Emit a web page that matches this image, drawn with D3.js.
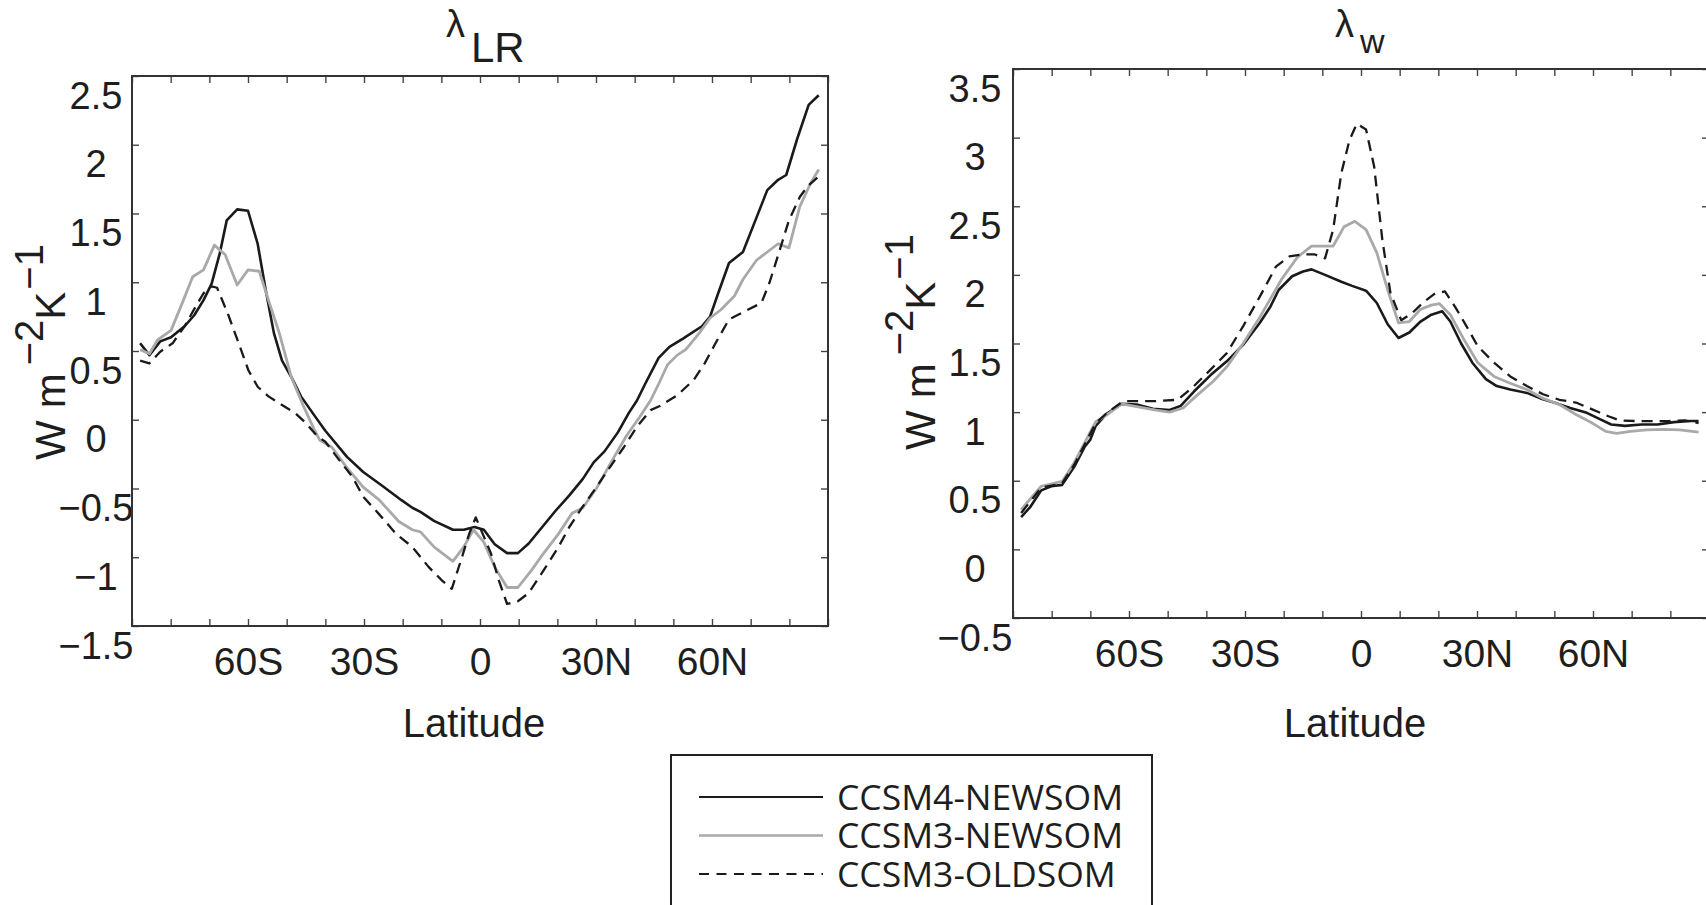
<!DOCTYPE html>
<html>
<head>
<meta charset="utf-8">
<script src="https://cdn.jsdelivr.net/npm/d3@7"></script>
<style>
  body { margin: 0; background: #fff; }
  svg { display: block; }
  text { font-family: "Liberation Sans", Arial, sans-serif; fill: #1e1e1e; }
</style>
</head>
<body>
<div id="container"></div>
<script>
// series names (legend order)
const seriesNames = ['CCSM4-NEWSOM', 'CCSM3-NEWSOM', 'CCSM3-OLDSOM'];

// lapse-rate feedback [latitude, W m-2 K-1]
const lrCCSM4 = [[-87.9,0.556],[-85.5,0.47],[-82.7,0.57],[-79.9,0.60],[-76.4,0.68],[-73.9,0.76],[-71.5,0.87],[-69.4,0.99],[-67.3,1.21],[-65.5,1.45],[-62.8,1.53],[-60,1.52],[-57.5,1.28],[-55.4,0.94],[-53.3,0.63],[-51.2,0.43],[-48.4,0.29],[-46.3,0.17],[-42.8,0.03],[-40,-0.08],[-34.4,-0.27],[-30.2,-0.38],[-25.3,-0.48],[-20.3,-0.585],[-17.5,-0.64],[-15.4,-0.67],[-11.9,-0.735],[-7,-0.80],[-4.2,-0.80],[-1.4,-0.78],[1,-0.80],[3.8,-0.905],[7,-0.97],[9.8,-0.97],[12.6,-0.90],[16.1,-0.78],[19.6,-0.66],[23.1,-0.55],[26.6,-0.43],[29.4,-0.31],[32.2,-0.23],[35.7,-0.09],[38.5,0.05],[40.6,0.14],[42.7,0.26],[46.2,0.45],[49,0.53],[52.5,0.59],[57.4,0.68],[59.5,0.75],[61.6,0.92],[64.4,1.14],[68,1.22],[71.5,1.47],[74.3,1.67],[77.1,1.745],[79.2,1.78],[82,2.04],[85,2.29],[87.6,2.36]];
const lrCCSM3new = [[-87.9,0.51],[-85.5,0.48],[-83.4,0.58],[-79.9,0.65],[-76.7,0.87],[-74.3,1.04],[-71.5,1.09],[-68.7,1.27],[-65.9,1.20],[-62.8,0.98],[-60,1.09],[-57.1,1.08],[-54.7,0.87],[-51.9,0.63],[-48.8,0.31],[-45.6,0.095],[-42.8,-0.075],[-41.4,-0.15],[-38.3,-0.20],[-34.4,-0.35],[-30.2,-0.49],[-26,-0.585],[-21,-0.74],[-17.5,-0.80],[-15.4,-0.815],[-11.9,-0.925],[-7,-1.03],[-4.2,-0.925],[-1.7,-0.80],[1,-0.89],[3.8,-1.07],[7,-1.22],[9.8,-1.22],[13.3,-1.095],[16.1,-0.985],[20.3,-0.83],[23.8,-0.68],[26.6,-0.64],[30.1,-0.50],[34.3,-0.29],[37.8,-0.12],[41.3,0.02],[44.1,0.14],[46.2,0.26],[48.5,0.40],[51,0.47],[53.2,0.51],[56.7,0.63],[59.5,0.74],[62.3,0.80],[65.8,0.90],[68,1.02],[71.5,1.16],[74.3,1.22],[77.1,1.28],[79.9,1.25],[82.7,1.55],[85.5,1.72],[87.6,1.82]];
const lrCCSM3old = [[-87.9,0.43],[-85.5,0.41],[-82.7,0.495],[-79.5,0.556],[-76.4,0.68],[-73.6,0.82],[-71.5,0.92],[-69.4,0.97],[-68,0.96],[-65.2,0.77],[-62.4,0.556],[-59.9,0.36],[-57.5,0.24],[-54.7,0.17],[-51.2,0.107],[-47.7,0.046],[-44.9,-0.027],[-42.1,-0.12],[-40,-0.16],[-36.5,-0.29],[-33,-0.415],[-30.2,-0.56],[-26,-0.69],[-21.7,-0.83],[-17.5,-0.925],[-13.3,-1.07],[-9.8,-1.17],[-7.3,-1.23],[-4.9,-1.02],[-2.8,-0.83],[-1.1,-0.71],[0.7,-0.83],[2.8,-0.97],[4.9,-1.17],[7,-1.34],[9.8,-1.32],[12.6,-1.26],[15.4,-1.14],[17.5,-1.05],[20.3,-0.925],[23.1,-0.78],[26.6,-0.63],[30.1,-0.49],[33,-0.37],[37.2,-0.20],[40.6,-0.05],[44.1,0.07],[46.5,0.10],[51.1,0.18],[55.3,0.29],[58.1,0.41],[60.9,0.556],[64.4,0.73],[68.6,0.79],[72.8,0.85],[74.9,1.0],[77.8,1.26],[79.9,1.45],[82.7,1.62],[84.8,1.70],[87.6,1.77]];

// water vapour feedback [latitude, W m-2 K-1]
const wCCSM4 = [[-87.9,0.235],[-85.5,0.31],[-82.7,0.43],[-80.1,0.46],[-77.3,0.47],[-74.2,0.60],[-71.4,0.75],[-70,0.80],[-68.6,0.90],[-65.7,0.99],[-61.9,1.06],[-58,1.056],[-53.8,1.024],[-49.5,1.015],[-46.7,1.044],[-43.2,1.15],[-38.9,1.27],[-34.7,1.37],[-30.5,1.49],[-26.2,1.65],[-23.4,1.77],[-21.3,1.89],[-17.8,1.99],[-15,2.025],[-12.8,2.04],[-9.3,2.00],[-5.1,1.95],[-2.3,1.92],[1.3,1.885],[4.1,1.795],[6.9,1.64],[9.7,1.54],[12.5,1.58],[15.4,1.66],[18.2,1.71],[21,1.735],[23.1,1.66],[25.9,1.50],[28.8,1.36],[32.3,1.24],[35.1,1.19],[38.6,1.165],[42.9,1.14],[46.4,1.10],[49.9,1.07],[54.1,1.03],[58.4,0.995],[61.9,0.947],[64.7,0.91],[68.3,0.90],[72.5,0.91],[76.7,0.91],[80.9,0.927],[85.2,0.935],[87.3,0.935]];
const wCCSM3new = [[-87.9,0.29],[-82.7,0.46],[-77.3,0.495],[-74.2,0.63],[-68.6,0.93],[-65.7,0.98],[-61.9,1.06],[-58,1.04],[-53,1.015],[-49.5,1.0],[-46,1.03],[-42.5,1.12],[-38.2,1.225],[-34.7,1.33],[-30.5,1.50],[-26.2,1.69],[-20.6,1.965],[-16.4,2.13],[-12.8,2.21],[-10,2.21],[-7.2,2.21],[-4.4,2.35],[-1.6,2.39],[1.3,2.33],[4.1,2.16],[6.9,1.89],[9.7,1.65],[12.5,1.66],[15.4,1.75],[18.2,1.78],[20.3,1.79],[23.1,1.71],[26.6,1.53],[30.2,1.36],[34.4,1.26],[38.6,1.21],[42.9,1.165],[47.1,1.10],[51.3,1.056],[55.6,0.983],[59.8,0.92],[63.3,0.86],[66.1,0.845],[69.7,0.86],[73.9,0.87],[78.1,0.874],[82.4,0.87],[87.3,0.855]];
const wCCSM3old = [[-87.9,0.265],[-82.7,0.45],[-77.3,0.48],[-74.2,0.615],[-68.6,0.92],[-65.7,0.995],[-61.5,1.08],[-57.3,1.08],[-53,1.08],[-47.4,1.09],[-43.2,1.19],[-38.9,1.31],[-34.7,1.43],[-30.5,1.625],[-26.2,1.84],[-22,2.06],[-18.5,2.135],[-15,2.15],[-12.1,2.15],[-9.3,2.12],[-7.2,2.33],[-5.1,2.74],[-3,2.98],[-1.1,3.10],[1.3,3.06],[3.4,2.79],[5.5,2.26],[7.6,1.87],[10.4,1.67],[13.2,1.72],[16.1,1.80],[18.9,1.86],[21.7,1.88],[24.5,1.76],[27.3,1.625],[30.2,1.48],[34.4,1.36],[38.6,1.26],[42.9,1.19],[47.1,1.13],[51.3,1.09],[55.6,1.07],[59.8,1.02],[64,0.97],[66.8,0.94],[71,0.935],[75.3,0.935],[79.5,0.935],[83.8,0.94],[87.3,0.92]];

// ticks
const xTicks = d3.range(-90, 91, 10);
const xTickLabels = {'-60': '60S', '-30': '30S', '0': '0', '30': '30N', '60': '60N'};
const lrYTicks = [-1.5, -1, -0.5, 0, 0.5, 1, 1.5, 2, 2.5];
const wYTicks = [-0.5, 0, 0.5, 1, 1.5, 2, 2.5, 3, 3.5];

const w = 1706, h = 905;

const svg = d3.select('#container')
  .append('svg')
  .attr('width', w)
  .attr('height', h);

const lineStyles = [
  {color: '#1a1a1a', width: 2.6, dash: null},
  {color: '#a9a9a9', width: 2.8, dash: null},
  {color: '#1a1a1a', width: 2.3, dash: '11,7'}
];

const fmt = v => (v < 0 ? '\u2212' : '') + Math.abs(v);

function drawPanel(p) {
  const xScale = d3.scaleLinear().domain([-90, 90]).range([p.left, p.right]);
  const yScale = d3.scaleLinear().domain(p.yDomain).range([p.bottom, p.top]);
  const g = svg.append('g');

  // lines
  const line = d3.line()
    .x(d => xScale(d[0]))
    .y(d => yScale(d[1]));

  p.series.forEach((s, i) => {
    g.append('path')
      .datum(s)
      .attr('fill', 'none')
      .attr('stroke', lineStyles[i].color)
      .attr('stroke-width', lineStyles[i].width)
      .attr('stroke-dasharray', lineStyles[i].dash)
      .attr('stroke-linejoin', 'round')
      .attr('d', line);
  });

  // axes, ticks inside the box
  const xAxis = d3.axisBottom(xScale).tickValues(xTicks).tickSize(-7)
    .tickFormat(d => xTickLabels[d] || '');
  const xAxisG = g.append('g')
    .attr('transform', 'translate(0,' + p.bottom + ')')
    .call(xAxis);
  xAxisG.selectAll('text')
    .attr('y', 49).attr('dy', 0)
    .style('font-size', '39px');

  g.append('g')
    .attr('transform', 'translate(0,' + p.top + ')')
    .call(d3.axisTop(xScale).tickValues(xTicks).tickSize(-7).tickFormat(''));

  const yAxis = d3.axisLeft(yScale).tickValues(p.yTicks).tickSize(-7).tickFormat(fmt);
  const yAxisG = g.append('g')
    .attr('transform', 'translate(' + p.left + ',0)')
    .call(yAxis);
  yAxisG.selectAll('text')
    .attr('x', p.labelDx).attr('y', 32).attr('dy', 0)
    .attr('text-anchor', 'middle')
    .style('font-size', '38px');

  g.append('g')
    .attr('transform', 'translate(' + p.right + ',0)')
    .call(d3.axisRight(yScale).tickValues(p.yTicks).tickSize(-7).tickFormat(''));

  g.selectAll('.domain').remove();
  g.selectAll('.tick line').attr('stroke', '#444').attr('stroke-width', 1.4);
  g.selectAll('.tick text').attr('fill', '#1e1e1e');

  // box
  g.append('rect')
    .attr('x', p.left).attr('y', p.top)
    .attr('width', p.right - p.left).attr('height', p.bottom - p.top)
    .attr('fill', 'none').attr('stroke', '#333').attr('stroke-width', 2);

  // x label
  g.append('text')
    .attr('x', (p.left + p.right) / 2 - 6)
    .attr('y', 737)
    .attr('text-anchor', 'middle')
    .style('font-size', '40px')
    .text('Latitude');

  // y label
  const yl = g.append('text')
    .attr('transform', 'translate(' + p.ylabelX + ',' + p.ylabelY + ') rotate(-90)')
    .attr('text-anchor', 'middle')
    .style('font-size', '42px');
  yl.append('tspan').text('W');
  yl.append('tspan').attr('dx', 12).text('m');
  yl.append('tspan').attr('dx', 8).attr('dy', -22).style('font-size', '40px').text('\u22122');
  yl.append('tspan').attr('dy', 22).text('K');
  yl.append('tspan').attr('dx', 2).attr('dy', -22).style('font-size', '40px').text('\u22121');

  // title
  g.append('text')
    .attr('x', p.titleX).attr('y', 37)
    .style('font-size', '38px')
    .text('\u03bb');
  g.append('text')
    .attr('x', p.titleX + 25).attr('y', p.subY)
    .style('font-size', p.subSize + 'px')
    .text(p.sub);
}

drawPanel({
  left: 132, right: 828, top: 76, bottom: 626,
  yDomain: [-1.5, 2.5], yTicks: lrYTicks, labelDx: -36,
  series: [lrCCSM4, lrCCSM3new, lrCCSM3old],
  ylabelX: 65, ylabelY: 352,
  titleX: 446, sub: 'LR', subY: 62, subSize: 42
});

drawPanel({
  left: 1013, right: 1709, top: 69, bottom: 618,
  yDomain: [-0.5, 3.5], yTicks: wYTicks, labelDx: -38,
  series: [wCCSM4, wCCSM3new, wCCSM3old],
  ylabelX: 935, ylabelY: 342,
  titleX: 1335, sub: 'w', subY: 53, subSize: 34
});

// legend
const legend = svg.append('g');
legend.append('rect')
  .attr('x', 671).attr('y', 755)
  .attr('width', 481).attr('height', 200)
  .attr('fill', '#fff').attr('stroke', '#222').attr('stroke-width', 2);

seriesNames.forEach((name, i) => {
  const y = 797 + i * 38.5;
  legend.append('line')
    .attr('x1', 699).attr('x2', 823)
    .attr('y1', y).attr('y2', y)
    .attr('stroke', lineStyles[i].color)
    .attr('stroke-width', i === 1 ? 2.4 : 2)
    .attr('stroke-dasharray', i === 2 ? '10,7.5' : null);
  legend.append('text')
    .attr('x', 837).attr('y', y + 12.5)
    .style('font-family', '"Open Sans", sans-serif')
    .style('font-size', '35.5px')
    .text(name);
});
</script>
</body>
</html>
